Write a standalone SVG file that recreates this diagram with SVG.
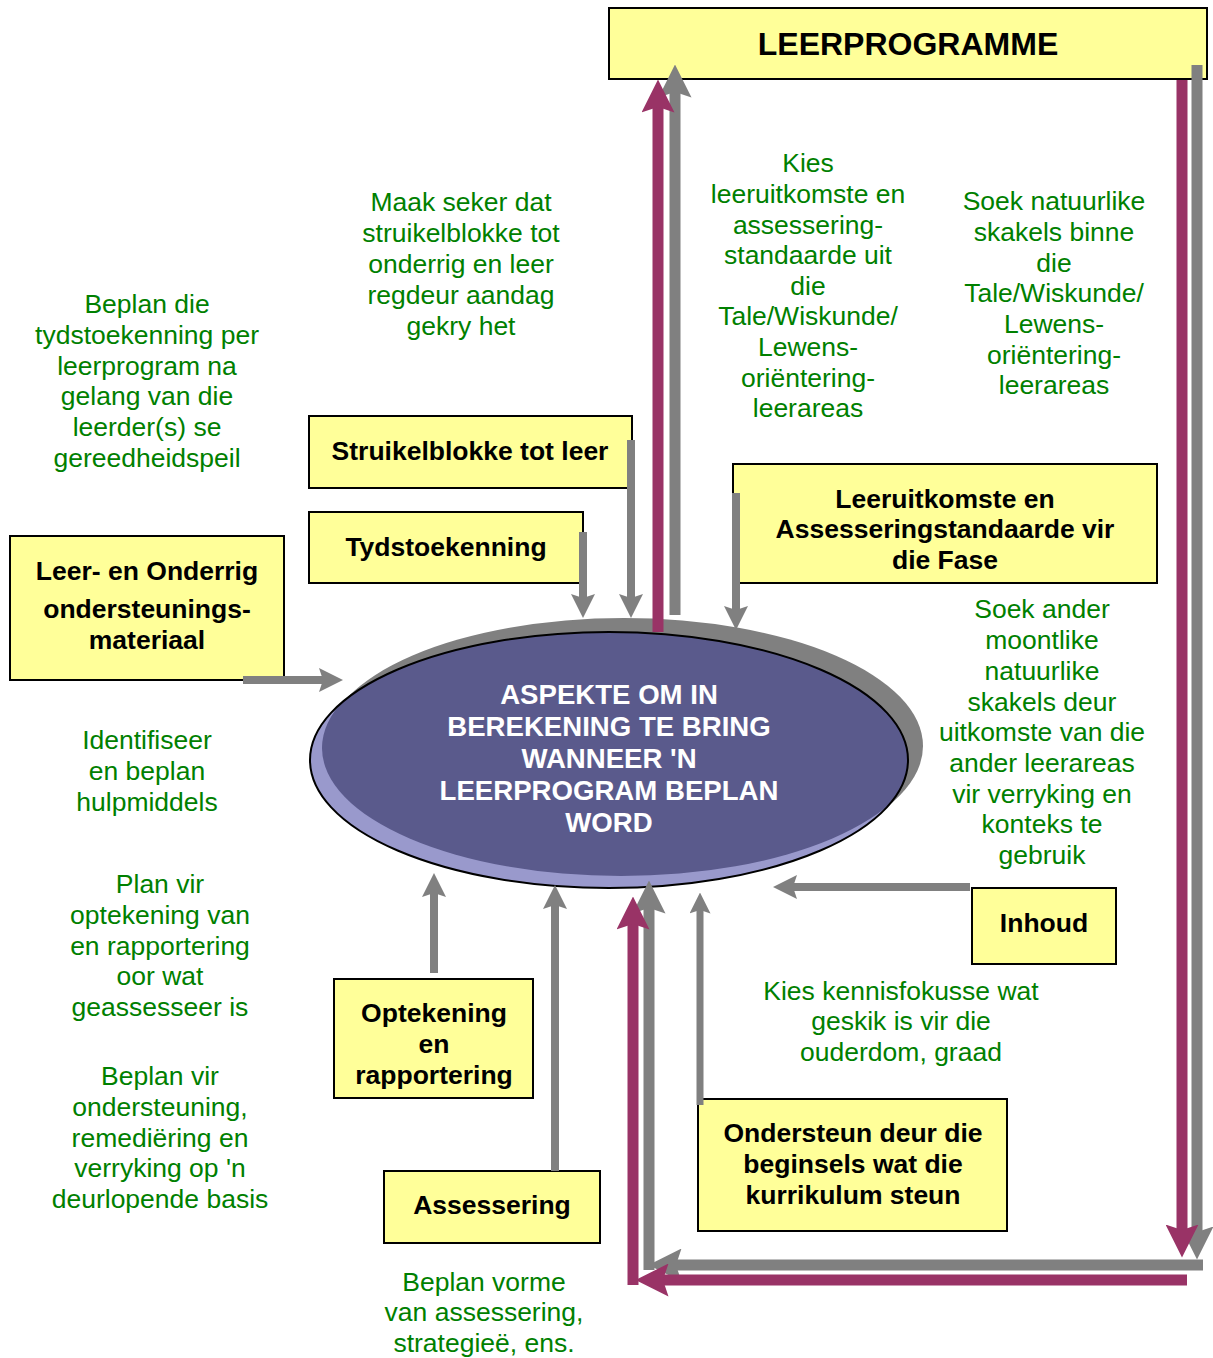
<svg xmlns="http://www.w3.org/2000/svg" width="1213" height="1358" viewBox="0 0 1213 1358">
<style>
.box{fill:#ffff99;stroke:#000;stroke-width:2}
.bt{font-family:"Liberation Sans",Arial,sans-serif;font-weight:bold;font-size:26.5px;fill:#000;text-anchor:middle}
.gt{font-family:"Liberation Sans",Arial,sans-serif;font-size:26.5px;fill:#008000;text-anchor:middle}
.et{font-family:"Liberation Sans",Arial,sans-serif;font-weight:bold;font-size:27.6px;fill:#fff;text-anchor:middle}
.g{stroke:#808080;fill:none}
.m{stroke:#993366;fill:none}
.s{stroke-width:8}
.w{stroke-width:11}
</style>
<defs>
<marker id="ag" viewBox="0 0 3 3" refX="0.5" refY="1.5" markerWidth="3" markerHeight="3" orient="auto" markerUnits="strokeWidth">
<path d="M0,0 L3,1.5 L0,3 L0.5,1.5 Z" fill="#808080"/>
</marker>
<marker id="am" viewBox="0 0 3 3" refX="0.5" refY="1.5" markerWidth="3" markerHeight="3" orient="auto" markerUnits="strokeWidth">
<path d="M0,0 L3,1.5 L0,3 L0.5,1.5 Z" fill="#993366"/>
</marker>
<clipPath id="ec"><ellipse cx="609" cy="760" rx="299" ry="128"/></clipPath>
</defs>
<rect width="1213" height="1358" fill="#fff"/>

<g id="ellipse">
<ellipse cx="624" cy="746" rx="299" ry="128" fill="#808080"/>
<ellipse cx="609" cy="760" rx="299" ry="128" fill="#9999cc"/>
<ellipse cx="621" cy="748" rx="299" ry="128" fill="#5a5a8c" clip-path="url(#ec)"/>
<ellipse cx="609" cy="760" rx="299" ry="128" fill="none" stroke="#000" stroke-width="2"/>
<text class="et"><tspan x="609" y="704">ASPEKTE OM IN</tspan><tspan x="609" y="736">BEREKENING TE BRING</tspan><tspan x="609" y="768">WANNEER 'N</tspan><tspan x="609" y="800">LEERPROGRAM BEPLAN</tspan><tspan x="609" y="832">WORD</tspan></text>
</g>

<g id="leerprogramme">
<rect class="box" x="609" y="8" width="598" height="71"/>
<text class="bt" x="908" y="55" style="font-size:32px">LEERPROGRAMME</text>
</g>
<g id="struikelblokke">
<rect class="box" x="309" y="416" width="323" height="72"/>
<text class="bt" x="470" y="460">Struikelblokke tot leer</text>
</g>
<g id="tydstoekenning">
<rect class="box" x="309" y="512" width="274" height="71"/>
<text class="bt" x="446" y="556">Tydstoekenning</text>
</g>
<g id="leermateriaal">
<rect class="box" x="10" y="536" width="274" height="144"/>
<text class="bt"><tspan x="147" y="580">Leer- en Onderrig</tspan><tspan x="147" y="618">ondersteunings-</tspan><tspan x="147" y="649">materiaal</tspan></text>
</g>
<g id="leeruitkomste">
<rect class="box" x="733" y="464" width="424" height="119"/>
<text class="bt"><tspan x="945" y="508">Leeruitkomste en</tspan><tspan x="945" y="538">Assesseringstandaarde vir</tspan><tspan x="945" y="569">die Fase</tspan></text>
</g>
<g id="inhoud">
<rect class="box" x="972" y="888" width="144" height="76"/>
<text class="bt" x="1044" y="932">Inhoud</text>
</g>
<g id="optekening">
<rect class="box" x="334" y="979" width="199" height="119"/>
<text class="bt"><tspan x="434" y="1022">Optekening</tspan><tspan x="434" y="1053">en</tspan><tspan x="434" y="1084">rapportering</tspan></text>
</g>
<g id="assessering">
<rect class="box" x="384" y="1171" width="216" height="72"/>
<text class="bt" x="492" y="1214">Assessering</text>
</g>
<g id="ondersteun">
<rect class="box" x="698" y="1099" width="309" height="132"/>
<text class="bt"><tspan x="853" y="1142">Ondersteun deur die</tspan><tspan x="853" y="1173">beginsels wat die</tspan><tspan x="853" y="1204">kurrikulum steun</tspan></text>
</g>

<g id="connectors">
<line class="g s" x1="583" y1="532" x2="583" y2="598" marker-end="url(#ag)"/>
<line class="g s" x1="631" y1="440" x2="631" y2="598" marker-end="url(#ag)"/>
<line class="g s" x1="736" y1="493" x2="736" y2="610" marker-end="url(#ag)"/>
<line class="g s" x1="243" y1="680" x2="323" y2="680" marker-end="url(#ag)"/>
<line class="g s" x1="434" y1="973" x2="434" y2="893" marker-end="url(#ag)"/>
<line class="g s" x1="555" y1="1171" x2="555" y2="905" marker-end="url(#ag)"/>
<line class="g" stroke-width="7" x1="700" y1="1105" x2="700" y2="910" marker-end="url(#ag)"/>
<line class="g s" x1="970" y1="887" x2="793" y2="887" marker-end="url(#ag)"/>

<line class="g w" x1="675" y1="615" x2="675" y2="92" marker-end="url(#ag)"/>
<line class="m w" x1="658" y1="632" x2="658" y2="107" marker-end="url(#am)"/>

<line class="g w" x1="1197" y1="65" x2="1197" y2="1232" marker-end="url(#ag)"/>
<line class="g w" x1="1203" y1="1265" x2="676" y2="1265" marker-end="url(#ag)"/>
<line class="g w" x1="649" y1="1270" x2="649" y2="908" marker-end="url(#ag)"/>

<line class="m w" x1="1182" y1="80" x2="1182" y2="1230" marker-end="url(#am)"/>
<line class="m w" x1="1187" y1="1280" x2="663" y2="1280" marker-end="url(#am)"/>
<line class="m w" x1="633" y1="1285" x2="633" y2="924" marker-end="url(#am)"/>
</g>

<g id="notes">
<text class="gt"><tspan x="461" y="211">Maak seker dat</tspan><tspan x="461" y="242">struikelblokke tot</tspan><tspan x="461" y="273">onderrig en leer</tspan><tspan x="461" y="304">regdeur aandag</tspan><tspan x="461" y="335">gekry het</tspan></text>
<text class="gt"><tspan x="147" y="313">Beplan die</tspan><tspan x="147" y="344">tydstoekenning per</tspan><tspan x="147" y="375">leerprogram na</tspan><tspan x="147" y="405">gelang van die</tspan><tspan x="147" y="436">leerder(s) se</tspan><tspan x="147" y="467">gereedheidspeil</tspan></text>
<text class="gt"><tspan x="808" y="172">Kies</tspan><tspan x="808" y="203">leeruitkomste en</tspan><tspan x="808" y="234">assessering-</tspan><tspan x="808" y="264">standaarde uit</tspan><tspan x="808" y="295">die</tspan><tspan x="808" y="325">Tale/Wiskunde/</tspan><tspan x="808" y="356">Lewens-</tspan><tspan x="808" y="387">oriëntering-</tspan><tspan x="808" y="417">leerareas</tspan></text>
<text class="gt"><tspan x="1054" y="210">Soek natuurlike</tspan><tspan x="1054" y="241">skakels binne</tspan><tspan x="1054" y="272">die</tspan><tspan x="1054" y="302">Tale/Wiskunde/</tspan><tspan x="1054" y="333">Lewens-</tspan><tspan x="1054" y="364">oriëntering-</tspan><tspan x="1054" y="394">leerareas</tspan></text>
<text class="gt"><tspan x="1042" y="618">Soek ander</tspan><tspan x="1042" y="649">moontlike</tspan><tspan x="1042" y="680">natuurlike</tspan><tspan x="1042" y="711">skakels deur</tspan><tspan x="1042" y="741">uitkomste van die</tspan><tspan x="1042" y="772">ander leerareas</tspan><tspan x="1042" y="803">vir verryking en</tspan><tspan x="1042" y="833">konteks te</tspan><tspan x="1042" y="864">gebruik</tspan></text>
<text class="gt"><tspan x="147" y="749">Identifiseer</tspan><tspan x="147" y="780">en beplan</tspan><tspan x="147" y="811">hulpmiddels</tspan></text>
<text class="gt"><tspan x="160" y="893">Plan vir</tspan><tspan x="160" y="924">optekening van</tspan><tspan x="160" y="955">en rapportering</tspan><tspan x="160" y="985">oor wat</tspan><tspan x="160" y="1016">geassesseer is</tspan></text>
<text class="gt"><tspan x="160" y="1085">Beplan vir</tspan><tspan x="160" y="1116">ondersteuning,</tspan><tspan x="160" y="1147">remediëring en</tspan><tspan x="160" y="1177">verryking op 'n</tspan><tspan x="160" y="1208">deurlopende basis</tspan></text>
<text class="gt"><tspan x="901" y="1000">Kies kennisfokusse wat</tspan><tspan x="901" y="1030">geskik is vir die</tspan><tspan x="901" y="1061">ouderdom, graad</tspan></text>
<text class="gt"><tspan x="484" y="1291">Beplan vorme</tspan><tspan x="484" y="1321">van assessering,</tspan><tspan x="484" y="1352">strategieë, ens.</tspan></text>
</g>
</svg>
